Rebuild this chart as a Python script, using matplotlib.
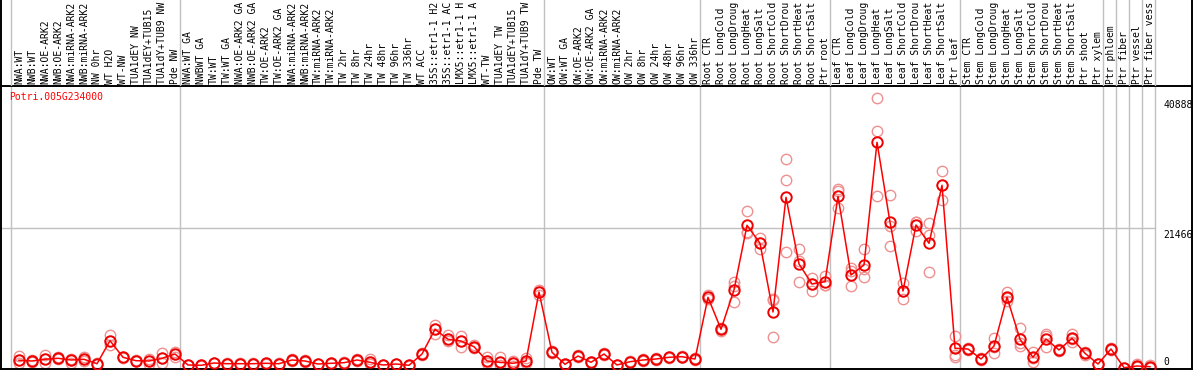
import matplotlib
matplotlib.use("Agg")
import matplotlib.pyplot as plt
from matplotlib.transforms import blended_transform_factory

# ---------------- data ----------------
gene_id = "Potri.005G234000"

sample_labels = [
    "NWA:WT", "NWB:WT", "NWA:OE-ARK2", "NWB:OE-ARK2", "NWA:miRNA-ARK2", "NWB:miRNA-ARK2",
    "NW 0hr", "WT H2O", "WT-NW", "TUA1dEY NW", "TUA1dEY+TUB15", "TUA1dY+TUB9 NW", "Pde NW",
    "NWA:WT GA", "NWBWT GA", "TW:WT", "TW:WT GA", "NWA:OE-ARK2 GA", "NWB:OE-ARK2 GA",
    "TW:OE-ARK2", "TW:OE-ARK2 GA", "NWA:miRNA-ARK2", "NWB:miRNA-ARK2", "TW:miRNA-ARK2",
    "TW:miRNA-ARK2", "TW 2hr", "TW 8hr", "TW 24hr", "TW 48hr", "TW 96hr", "TW 336hr",
    "WT ACC", "35S::etr1-1 H2", "35S::etr1-1 AC", "LMX5::etr1-1 H", "LMX5::etr1-1 A",
    "WT-TW", "TUA1dEY TW", "TUA1dEY+TUB15", "TUA1dY+TUB9 TW", "Pde TW",
    "OW:WT", "OW:WT GA", "OW:OE-ARK2", "OW:OE-ARK2 GA", "OW:miRNA-ARK2", "OW:miRNA-ARK2",
    "OW 2hr", "OW 8hr", "OW 24hr", "OW 48hr", "OW 96hr", "OW 336hr",
    "Root CTR", "Root LongCold", "Root LongDroug", "Root LongHeat", "Root LongSalt",
    "Root ShortCold", "Root ShortDrou", "Root ShortHeat", "Root ShortSalt", "Ptr root",
    "Leaf CTR", "Leaf LongCold", "Leaf LongDroug", "Leaf LongHeat", "Leaf LongSalt",
    "Leaf ShortCold", "Leaf ShortDrou", "Leaf ShortHeat", "Leaf ShortSalt", "Ptr leaf",
    "Stem CTR", "Stem LongCold", "Stem LongDroug", "Stem LongHeat", "Stem LongSalt",
    "Stem ShortCold", "Stem ShortDrou", "Stem ShortHeat", "Stem ShortSalt", "Ptr shoot",
    "Ptr xylem", "Ptr phloem", "Ptr fiber", "Ptr vessel", "Ptr fiber vess",
]

mean_values = [
    1660, 1557, 1812, 1962, 1707, 1812, 1153, 4597, 2111, 1602, 1557, 1962, 2606,
    958, 913, 1258, 1153, 1153, 1153, 1213, 1153, 1707, 1557, 1108, 1213, 1303, 1707,
    1363, 958, 1108, 913, 2606, 6304, 4807, 4552, 3699, 1557, 1363, 1213, 1557, 11890,
    2860, 1063, 2306, 1363, 2606, 958, 1453, 1707, 1857, 2111, 2201, 1857,
    11096, 6304, 12190, 21878, 19183, 8895, 26071, 16083, 13088, 13433,
    26221, 14436, 15934, 34307, 22328, 12040, 21923, 19183, 27868, 3459,
    3354, 1857, 3804, 11096, 4807, 2111, 4852, 3205, 4957, 2710, 1108,
    3354, 554, 809, 704,
]

rep1 = [
    2306, 1650, 2456, 2150, 1258, 2201, 1200, 5406, 2200, 1700, 1108, 2800, 2950,
    1000, 950, 1320, 1200, 1200, 1200, 1270, 1200, 1800, 1650, 1160, 1270, 1370, 1800,
    1812, 1000, 1160, 950, 2750, 6948, 5451, 5346, 3900, 2201, 2201, 1557, 2051, 12200,
    3000, 1120, 2500, 1450, 2750, 1000, 1530, 1800, 1950, 2220, 2320, 1950,
    11400, 6500, 13432, 24020, 20021, 10692, 31762, 18329, 14031, 14331,
    27269, 15439, 18284, 40888, 26416, 13283, 22418, 22178, 30010, 5301,
    3500, 1950, 5047, 11845, 6454, 2860, 5601, 3400, 5601, 2900, 1160,
    3500, 580, 1100, 1000,
]

rep2 = [
    1258, 1460, 1258, 1800, 1900, 1500, 1100, 3953, 2000, 1500, 1800, 1303, 2111,
    900, 870, 1200, 1100, 1100, 1100, 1150, 1100, 1600, 1460, 1050, 1150, 1230, 1600,
    1100, 900, 1050, 870, 2450, 5601, 4500, 3699, 3500, 1200, 1000, 809, 1200, 11500,
    2700, 1000, 2100, 1280, 2450, 900, 1380, 1600, 1760, 2000, 2090, 1760,
    10800, 6100, 10348, 20920, 18285, 5106, 28617, 13343, 12085, 13000,
    27000, 12834, 14091, 36000, 18823, 10797, 21025, 20426, 25667, 2456,
    3200, 1760, 2710, 10500, 3804, 1453, 3699, 3000, 4448, 2500, 1050,
    3200, 530, 600, 500,
]

rep3 = [
    1660, 1557, 1812, 1962, 1707, 1812, 1153, 4597, 2111, 1602, 1557, 1962, 2606,
    958, 913, 1258, 1153, 1153, 1153, 1213, 1153, 1707, 1557, 1108, 1213, 1303, 1707,
    1363, 958, 1108, 913, 2606, 6304, 4807, 4552, 3699, 1557, 1363, 1213, 1557, 11890,
    2860, 1063, 2306, 1363, 2606, 958, 1453, 1707, 1857, 2111, 2201, 1857,
    11096, 6304, 12800, 20700, 19183, 10900, 17835, 16500, 13100, 13000,
    24424, 15000, 15400, 26221, 21800, 12040, 22300, 14930, 27900, 2201,
    3354, 1857, 3700, 11000, 4200, 2000, 5250, 3205, 4800, 2710, 1108,
    3354, 554, 809, 704,
]

group_boundaries = [0, 13, 41, 53, 63, 73, 84, 85, 86, 87, 88]
ytick_values = [0, 21466, 40888]
ytick_labels = ["0", "21466", "40888"]

# ---------------- layout ----------------
W, H = 1194, 370
DPI = 100
fig = plt.figure(figsize=(W / DPI, H / DPI), dpi=DPI)
fig.patch.set_facecolor("white")

mono = "DejaVu Sans Mono"
fs = 7.0

x_left_px, x_right_px = 1, 1192
plot_top_px, plot_bot_px = 86, 369

def fx(px):
    return px / W

def fy(py):
    return 1 - py / H

xlim = (-1.385, 90.23)
ylim = (359, 42737)

ax = fig.add_axes([fx(x_left_px), fy(plot_bot_px), fx(x_right_px - x_left_px),
                   (plot_bot_px - plot_top_px) / H])
ax.set_xlim(*xlim)
ax.set_ylim(*ylim)
ax.set_xticks([])
ax.set_yticks([])
for s in ax.spines.values():
    s.set_color("black")
    s.set_linewidth(1.4)

# label area axes
axl = fig.add_axes([fx(x_left_px), fy(plot_top_px), fx(x_right_px - x_left_px), plot_top_px / H])
axl.set_xlim(*xlim)
axl.set_ylim(plot_top_px, 0)
axl.set_xticks([])
axl.set_yticks([])
axl.patch.set_alpha(0)
axl.spines["bottom"].set_visible(False)
axl.spines["top"].set_visible(False)
for side in ("left", "right"):
    axl.spines[side].set_color("black")
    axl.spines[side].set_linewidth(1.4)

sep_offset = 0.62
x_end = group_boundaries[-1] - sep_offset

# vertical separators
for b in group_boundaries:
    ax.axvline(b - sep_offset, color="#c0c0c0", lw=1.0, zorder=1)
    axl.axvline(b - sep_offset, color="#c0c0c0", lw=1.0, zorder=1)

# horizontal gridline at middle tick
ax.plot([xlim[0], x_end], [ytick_values[1], ytick_values[1]], color="#c0c0c0", lw=1.0, zorder=1)

xs = list(range(len(mean_values)))

# replicates
for reps in (rep1, rep2, rep3):
    ax.plot(xs, reps, linestyle="none", marker="o", markersize=7.5, mfc="none",
            mec="#ef9090", mew=1.0, zorder=2, clip_on=False)

# mean line
ax.plot(xs, mean_values, color="#ff0000", lw=1.1, zorder=3)
ax.plot(xs, mean_values, linestyle="none", marker="o", markersize=7.5, mfc="none",
        mec="#ee0000", mew=1.4, zorder=4)

# sample labels
for i, lab in enumerate(sample_labels):
    axl.text(i, 83.5, lab, rotation=90, ha="center", va="bottom", family=mono,
             fontsize=fs, color="black", clip_on=True)

# gene id
fig.text(fx(9), fy(97.5), gene_id, color="#ff0000", family=mono, fontsize=fs,
         ha="left", va="center")

# y tick labels (right side)
trans = blended_transform_factory(fig.transFigure, ax.transData)
for v, lab in zip(ytick_values, ytick_labels):
    if v <= ylim[0]:
        fig.text(fx(1163), fy(362), lab, family=mono, fontsize=fs, ha="left", va="center")
    else:
        ax.annotate(lab, xy=(fx(1163), v), xycoords=trans, xytext=(0, -2),
                    textcoords="offset pixels", family=mono, fontsize=fs,
                    ha="left", va="top", annotation_clip=False)

fig.savefig("out.png", dpi=DPI)
